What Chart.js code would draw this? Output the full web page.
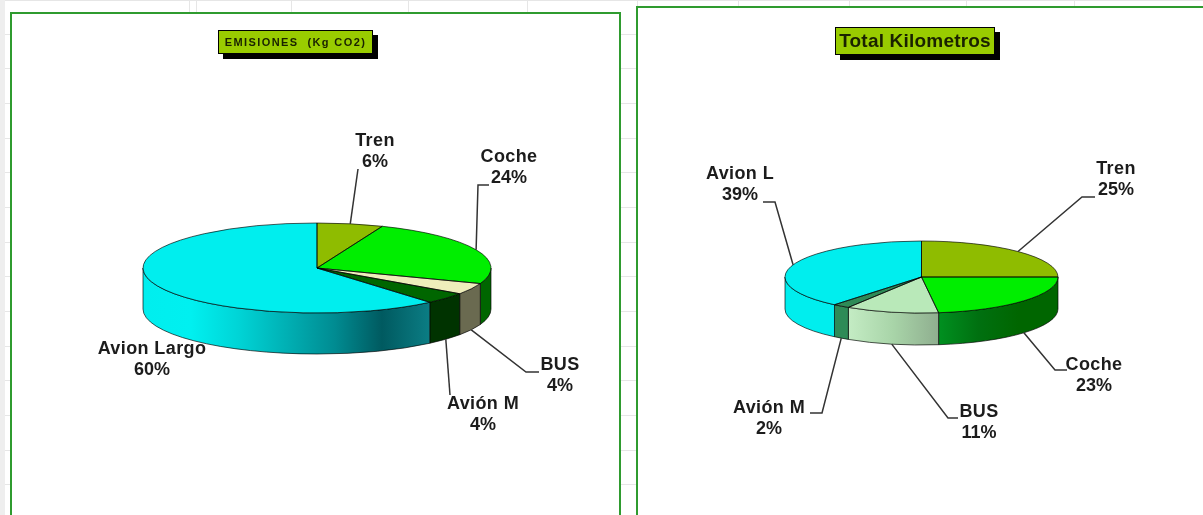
<!DOCTYPE html>
<html>
<head>
<meta charset="utf-8">
<style>
  html, body { margin: 0; padding: 0; background: #fff; overflow: hidden; width: 1203px; height: 515px; }
  canvas { position: absolute; left: 0; top: 0; }
  .grid { position: absolute; background: #e6e6e6; }
  .frame { position: absolute; background: #fff; border: 2px solid #2f9b2f; box-sizing: border-box; }
</style>
<script src="https://cdn.jsdelivr.net/npm/chart.js@4"></script>
</head>
<body>
<div class="grid" style="left:0;top:0;width:5px;height:515px;background:#eeeeee"></div>
<div class="frame" style="left:10px;top:12px;width:611px;height:540px"></div>
<div class="frame" style="left:636px;top:6px;width:600px;height:540px"></div>
<canvas id="emisionesChart" width="1203" height="515"></canvas>
<canvas id="kilometrosChart" width="1203" height="515"></canvas>
<script>
const emisionesTitle = 'EMISIONES  (Kg CO2)';
const emisionesLabels = ['Tren', 'Coche', 'BUS', 'Avión M', 'Avion Largo'];
const emisionesValues = [6, 24, 4, 4, 60];

const kilometrosTitle = 'Total Kilometros';
const kilometrosLabels = ['Tren', 'Coche', 'BUS', 'Avión M', 'Avion L'];
const kilometrosValues = [25, 23, 11, 2, 39];

// spreadsheet lines behind the charts
const gridRows = [0, 34, 68, 103, 138, 172, 207, 242, 276, 311, 346, 380, 415, 450, 484];
const gridCols = [189, 196, 291, 408, 527, 637, 738, 849, 966, 1074];

for (let y of gridRows) {
    let d = document.createElement('div');
    d.className = 'grid';
    d.style.cssText = 'left:5px;top:' + y + 'px;width:1198px;height:1px';
    document.body.insertBefore(d, document.body.firstChild);
}
for (let x of gridCols) {
    let d = document.createElement('div');
    d.className = 'grid';
    d.style.cssText = 'left:' + x + 'px;top:0;width:1px;height:12px';
    document.body.insertBefore(d, document.body.firstChild);
}

const pie3d = {
    id: 'pie3d',
    beforeDatasetsDraw(chart, args, o) {
        let ctx = chart.ctx;
        let arcs = chart.getDatasetMeta(0).data;
        let cx = arcs[0].x, cy = arcs[0].y, rx = arcs[0].outerRadius, ry = rx * o.tilt;
        // side wall, only the front half of the rim shows
        arcs.forEach((arc, i) => {
            let a0 = Math.max(arc.startAngle, 0);
            let a1 = Math.min(arc.endAngle, Math.PI);
            if (a1 <= a0) return;
            let g = ctx.createLinearGradient(cx + rx * Math.cos(a1), 0, cx + rx * Math.cos(a0), 0);
            o.sides[i].forEach((c, k, all) => g.addColorStop(all.length > 1 ? k / (all.length - 1) : 0, c));
            ctx.beginPath();
            ctx.ellipse(cx, cy, rx, ry, 0, a0, a1, false);
            ctx.ellipse(cx, cy + o.depth, rx, ry, 0, a1, a0, true);
            ctx.closePath();
            ctx.fillStyle = g;
            ctx.fill();
            ctx.strokeStyle = 'rgba(0,0,0,0.65)';
            ctx.lineWidth = 1;
            ctx.stroke();
        });
        ctx.save();
        ctx.translate(cx, cy);
        ctx.scale(1, o.tilt);
        ctx.translate(-cx, -cy);
    },
    afterDatasetsDraw(chart, args, o) {
        let ctx = chart.ctx;
        ctx.restore();
        let arcs = chart.getDatasetMeta(0).data;
        let cx = arcs[0].x, cy = arcs[0].y, rx = arcs[0].outerRadius, ry = rx * o.tilt;
        ctx.strokeStyle = 'rgba(0,0,0,0.65)';
        ctx.lineWidth = 1;
        arcs.forEach(arc => {
            ctx.beginPath();
            ctx.moveTo(cx, cy);
            ctx.ellipse(cx, cy, rx, ry, 0, arc.startAngle, arc.endAngle);
            ctx.closePath();
            ctx.stroke();
        });

        // leader lines start on the rim at the middle of each slice
        ctx.strokeStyle = '#333333';
        ctx.lineWidth = 1.5;
        arcs.forEach((arc, i) => {
            let path = o.leaders[i];
            if (!path) return;
            let mid = (arc.startAngle + arc.endAngle) / 2;
            let sx = cx + rx * Math.cos(mid);
            let sy = cy + ry * Math.sin(mid);
            if (Math.sin(mid) > 0) sy += o.depth;
            ctx.beginPath();
            ctx.moveTo(sx, sy);
            path.forEach(p => ctx.lineTo(p[0], p[1]));
            ctx.stroke();
        });
        ctx.lineWidth = 1;

        // slice labels
        ctx.fillStyle = '#1c1c1c';
        ctx.font = 'bold 18px "Liberation Sans"';
        ctx.textAlign = 'center';
        ctx.textBaseline = 'middle';
        chart.data.labels.forEach((name, i) => {
            let p = o.labelAt[i];
            ctx.letterSpacing = '0.4px';
            ctx.fillText(name, p[0], p[1]);
            ctx.letterSpacing = '0px';
            ctx.fillText(chart.data.datasets[0].data[i] + '%', p[0], p[1] + 21);
        });

        // title box with its hard shadow
        let b = o.titleBox;
        ctx.fillStyle = '#000';
        ctx.fillRect(b.x + 5, b.y + 5, b.w, b.h);
        ctx.fillStyle = '#99cc00';
        ctx.fillRect(b.x, b.y, b.w, b.h);
        ctx.strokeStyle = '#000';
        ctx.strokeRect(b.x + 0.5, b.y + 0.5, b.w - 1, b.h - 1);
        ctx.fillStyle = '#1a2200';
        ctx.font = o.titleFont;
        ctx.letterSpacing = o.titleSpacing;
        ctx.fillText(o.title, b.x + b.w / 2, b.y + b.h / 2 + 1);
        ctx.letterSpacing = '0px';
    }
};

function pieChart(id, labels, values, colors, radius, padding, pieOptions) {
    return new Chart(document.getElementById(id), {
        type: 'pie',
        data: {
            labels: labels,
            datasets: [{ data: values, backgroundColor: colors, borderWidth: 0 }]
        },
        options: {
            responsive: false,
            animation: false,
            radius: radius,
            layout: { padding: padding },
            plugins: {
                legend: { display: false },
                tooltip: { enabled: false },
                pie3d: pieOptions
            }
        },
        plugins: [pie3d]
    });
}

let emisionesChart = pieChart('emisionesChart', emisionesLabels, emisionesValues,
    ['#8fbc00', '#00ee00', '#eeeebb', '#006600', '#00eeee'], 174,
    { left: 0, right: 569, top: 21, bottom: 0 },
    {
        tilt: 45 / 174,
        depth: 41,
        sides: [['#6b8c00'], ['#006600'], ['#6a6a50'], ['#003300'],
            ['#00eeee', '#00f0f0', '#00d4d6', '#00b0b4', '#008c92', '#005a60', '#0b7d84']],
        leaders: [
            [[358, 169]],
            [[478, 185], [489, 185]],
            [[526, 372], [539, 372]],
            [[450, 395]],
            null
        ],
        labelAt: [[375, 141], [509, 157], [560, 365], [483, 404], [152, 349]],
        title: emisionesTitle,
        titleFont: 'bold 11px "Liberation Sans"',
        titleSpacing: '1.4px',
        titleBox: { x: 218, y: 30, w: 155, h: 24 }
    });

let kilometrosChart = pieChart('kilometrosChart', kilometrosLabels, kilometrosValues,
    ['#8fbc00', '#00ee00', '#b9e9b9', '#2e8b57', '#00eeee'], 136.5,
    { left: 640, right: 0, top: 39, bottom: 0 },
    {
        tilt: 36 / 136.5,
        depth: 32,
        sides: [['#6b8c00'], ['#009020', '#007010', '#006600', '#006600'], ['#c4ecc4', '#a8d4a8', '#8fae8f'], ['#2e8b57'], ['#00eeee']],
        leaders: [
            [[1082, 197], [1095, 197]],
            [[1055, 370], [1067, 370]],
            [[948, 418], [958, 418]],
            [[822, 413], [810, 413]],
            [[775, 202], [763, 202]]
        ],
        labelAt: [[1116, 169], [1094, 365], [979, 412], [769, 408], [740, 174]],
        title: kilometrosTitle,
        titleFont: 'bold 19px "Liberation Sans"',
        titleSpacing: '0.2px',
        titleBox: { x: 835, y: 27, w: 160, h: 28 }
    });
</script>
</body>
</html>
